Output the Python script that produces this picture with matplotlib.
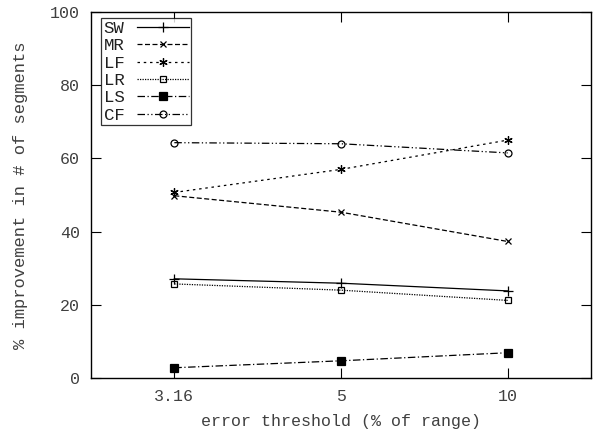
import matplotlib
matplotlib.use("Agg")
import matplotlib.pyplot as plt

categories = ["3.16", "5", "10"]
series_names = ["SW", "MR", "LF", "LR", "LS", "CF"]
SW = [27.1, 25.9, 23.8]
MR = [49.8, 45.3, 37.3]
LF = [50.7, 57.0, 65.0]
LR = [25.7, 24.0, 21.2]
LS = [2.8, 4.7, 6.9]
CF = [64.3, 64.0, 61.5]
yticks = [0, 20, 40, 60, 80, 100]

plt.rcParams['font.family'] = ['Liberation Mono', 'DejaVu Sans Mono']
txtc = '#404040'

fig = plt.figure(figsize=(5.95, 4.37), dpi=100)
ax = fig.add_axes([91/595, (437-378)/437, (591-91)/595, (378-12)/437])

x = list(range(len(categories)))
styles = {
    "SW": dict(ls='-', marker='+', ms=7, mfc='black'),
    "MR": dict(ls=(0, (4, 2)), marker='x', ms=5, mfc='black'),
    "LF": dict(ls=(0, (2, 3)), marker=(6, 2, 0), ms=6, mfc='black'),
    "LR": dict(ls=(0, (1, 1)), marker='s', ms=5, mfc='none'),
    "LS": dict(ls=(0, (6, 2, 1, 2)), marker='s', ms=5.5, mfc='black'),
    "CF": dict(ls=(0, (6, 2, 1, 2, 1, 2)), marker='o', ms=5, mfc='none'),
}
data = {"SW": SW, "MR": MR, "LF": LF, "LR": LR, "LS": LS, "CF": CF}
for name in series_names:
    st = styles[name]
    ax.plot(x, data[name], color='black', lw=0.9, linestyle=st['ls'],
            marker=st['marker'], markersize=st['ms'], markerfacecolor=st['mfc'],
            markeredgecolor='black', markeredgewidth=0.9, label=name)

ax.set_xlim(-0.5, 2.5)
ax.set_ylim(0, 100)
ax.set_xticks(x)
ax.set_xticklabels(categories)
ax.set_yticks(yticks)
ax.tick_params(direction='in', top=True, right=True, length=7, width=0.8,
               labelsize=12, labelcolor=txtc, pad=8)
for s in ax.spines.values():
    s.set_linewidth(1.0)

ax.set_xlabel("error threshold (% of range)", fontsize=12, color=txtc, labelpad=7)
ax.set_ylabel("% improvement in # of segments", fontsize=12.3, color=txtc, labelpad=16)

leg = ax.legend(loc='upper left', bbox_to_anchor=(10/500, 1 - 6/366),
                markerfirst=False, frameon=True, fancybox=False,
                edgecolor='black', fontsize=12.5, handlelength=3.0, handletextpad=0.7,
                borderpad=0.15, labelspacing=0.13, borderaxespad=0.0)
leg.get_frame().set_linewidth(0.9)
for t in leg.get_texts():
    t.set_color('#202020')

fig.savefig("out.png", dpi=100)
